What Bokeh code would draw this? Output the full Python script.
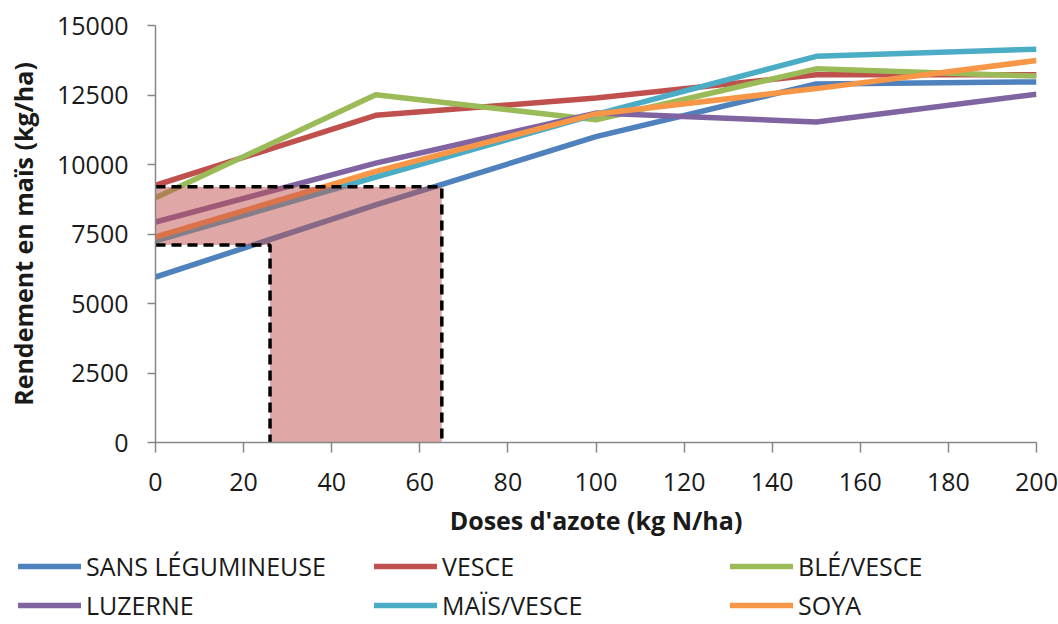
from bokeh.plotting import figure
from bokeh.models import Range1d, FixedTicker, Legend, LegendItem
from bokeh.layouts import column
from bokeh.embed import file_html
from bokeh.resources import INLINE

doses = [0, 50, 100, 150, 200]
sans_legumineuse = [5950, 8550, 11000, 12900, 12970]
vesce = [9250, 11770, 12390, 13230, 13230]
ble_vesce = [8800, 12510, 11610, 13440, 13180]
luzerne = [7930, 10050, 11850, 11530, 12530]
mais_vesce = [7250, 9550, 11800, 13890, 14150]
soya = [7390, 9750, 11820, 12730, 13740]

series_names = ["SANS LÉGUMINEUSE", "VESCE", "BLÉ/VESCE", "LUZERNE", "MAÏS/VESCE", "SOYA"]
series_values = [sans_legumineuse, vesce, ble_vesce, luzerne, mais_vesce, soya]
series_colors = ["#4f81bd", "#c0504d", "#9bbb59", "#8064a2", "#4bacc6", "#f79646"]

# highlighted zone
zone_x_low, zone_x_high = 26, 65
zone_y_low, zone_y_high = 7100, 9200

x_ticks = [0, 20, 40, 60, 80, 100, 120, 140, 160, 180, 200]
y_ticks = [0, 2500, 5000, 7500, 10000, 12500, 15000]

FONT = "Open Sans"
TXT = "#1a1a1a"

p = figure(width=1058, height=549, x_range=Range1d(0, 200), y_range=Range1d(0, 15000),
           output_backend="svg", toolbar_location=None,
           min_border_left=155, min_border_right=22, min_border_top=25, min_border_bottom=107)
p.frame_align = False
p.outline_line_color = None
p.xgrid.visible = False
p.ygrid.visible = False
p.background_fill_color = "white"
p.border_fill_color = "white"

for name, vals, col in zip(series_names, series_values, series_colors):
    p.line(doses, vals, line_color=col, line_width=5.5)

# shaded zone (drawn over lines, semi-transparent)
poly_x = [0, 0, zone_x_high, zone_x_high, zone_x_low, zone_x_low]
poly_y = [zone_y_low, zone_y_high, zone_y_high, 0, 0, zone_y_low]
p.patch(poly_x, poly_y, fill_color="#c0504d", fill_alpha=0.5, line_color=None)
p.line([0, zone_x_high, zone_x_high], [zone_y_high, zone_y_high, 0],
       line_color="black", line_width=3.5, line_dash="10 6")
p.line([0, zone_x_low, zone_x_low], [zone_y_low, zone_y_low, 0],
       line_color="black", line_width=3.5, line_dash="10 6")

for ax in (p.xaxis[0], p.yaxis[0]):
    ax.axis_line_color = "#868686"
    ax.axis_line_width = 1.5
    ax.major_tick_line_color = "#868686"
    ax.major_tick_line_width = 1.5
    ax.minor_tick_line_color = None
    ax.major_tick_in = 0
    ax.major_label_text_font = FONT
    ax.major_label_text_font_size = "25px"
    ax.major_label_text_color = TXT
    ax.axis_label_text_font = FONT
    ax.axis_label_text_font_style = "bold"
    ax.axis_label_text_font_size = "25px"
    ax.axis_label_text_color = TXT

p.xaxis.ticker = FixedTicker(ticks=x_ticks)
p.yaxis.ticker = FixedTicker(ticks=y_ticks)
p.xaxis.axis_label = "Doses d'azote (kg N/ha)"
p.yaxis.axis_label = "Rendement en maïs (kg/ha)"
p.xaxis.major_tick_out = 10
p.yaxis.major_tick_out = 8
p.xaxis.major_label_standoff = 20
p.yaxis.major_label_standoff = 19
p.xaxis.axis_label_standoff = 9
p.yaxis.axis_label_standoff = 14

# legend figure below the chart (its lines lie outside its visible ranges)
lf = figure(width=1058, height=75, x_range=Range1d(-20, -10), y_range=Range1d(-20, -10),
            output_backend="svg", toolbar_location=None,
            min_border_left=0, min_border_right=0, min_border_top=0, min_border_bottom=0)
lf.frame_align = False
lf.axis.visible = False
lf.grid.visible = False
lf.outline_line_color = None
lf.background_fill_color = "white"
lf.border_fill_color = "white"
leg_renderers = []
for name, vals, col in zip(series_names, series_values, series_colors):
    leg_renderers.append(lf.line(doses, vals, line_color=col, line_width=5.5, line_cap="round"))

items = [LegendItem(label=n, renderers=[r]) for n, r in zip(series_names, leg_renderers)]
legend = Legend(items=items, ncols=3, orientation="horizontal", location=(18, 2),
                label_text_font=FONT, label_text_font_size="25px", label_text_color=TXT,
                glyph_width=63, glyph_height=34, label_standoff=5, label_width=283,
                spacing=5, padding=0, margin=0, border_line_color=None,
                background_fill_alpha=0, label_height=30)
lf.add_layout(legend, "center")

open("out.html", "w").write(file_html(column(p, lf, spacing=0), INLINE))
